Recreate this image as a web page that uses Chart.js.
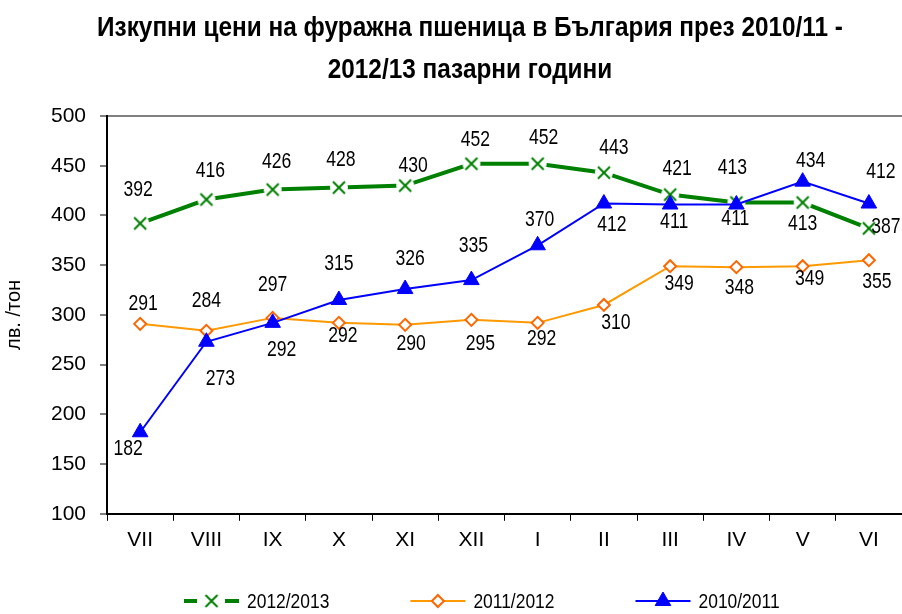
<!DOCTYPE html>
<html>
<head>
<meta charset="utf-8">
<script src="https://cdn.jsdelivr.net/npm/chart.js@4.4.0/dist/chart.umd.min.js"></script>
<style>
    html, body { margin: 0; padding: 0; background: #fff; }
    #wrap { width: 902px; height: 614px; position: relative; }
</style>
</head>
<body>
<div id="wrap"><canvas id="priceChart"></canvas></div>
<script>
const FONT = "'Liberation Sans', Arial, sans-serif";

const titleLines = ["Изкупни цени на фуражна пшеница в България през 2010/11 -", "2012/13 пазарни години"];
const yAxisTitle = "лв. /тон";

const months = ["VII", "VIII", "IX", "X", "XI", "XII", "I", "II", "III", "IV", "V", "VI"];
const seriesNames = ["2012/2013", "2011/2012", "2010/2011"];
const prices1213 = [392, 416, 426, 428, 430, 452, 452, 443, 421, 413, 413, 387];
const prices1112 = [291, 284, 297, 292, 290, 295, 292, 310, 349, 348, 349, 355];
const prices1011 = [182, 273, 292, 315, 326, 335, 370, 412, 411, 411, 434, 412];
const yTicks = { min: 100, max: 500, step: 50 };

// къде стои етикетът спрямо точката (dx, dy)
const labelOffsets = [
    [[-2, -33], [4, -29], [4, -28], [2, -28], [8, -20], [4, -24], [6, -26], [10, -25], [7, -26], [-4, -35], [0, 21], [17, -1]],
    [[3, -20], [0, -30], [0, -33], [4, 13], [6, 19], [9, 24], [4, 16], [12, 18], [9, 18], [3, 21], [7, 13], [8, 22]],
    [[-12, 17], [14, 37], [9, 27], [0, -36], [5, -30], [2, -34], [2, -25], [8, 21], [4, 17], [-1, 14], [8, -21], [12, -32]],
];

const GREEN = "#008000";
const ORANGE = "#FF9900";
const ORANGE_DARK = "#FF6600";
const BLUE = "#0000FF";

// кръстче с бял фон, за да се получи прекъсване на линията около маркера
function makeCrossMarker() {
    const c = document.createElement("canvas");
    c.width = 20;
    c.height = 20;
    const g = c.getContext("2d");
    g.fillStyle = "#fff";
    g.beginPath();
    g.arc(10, 10, 9, 0, Math.PI * 2);
    g.fill();
    g.strokeStyle = GREEN;
    g.lineWidth = 2;
    g.beginPath();
    g.moveTo(4, 4);
    g.lineTo(16, 16);
    g.moveTo(16, 4);
    g.lineTo(4, 16);
    g.stroke();
    return c;
}
const crossMarker = makeCrossMarker();

// текст, свит хоризонтално (няма Arial Narrow)
function narrowText(ctx, text, x, y, sx) {
    ctx.save();
    ctx.translate(x, y);
    ctx.scale(sx, 1);
    ctx.fillText(text, 0, 0);
    ctx.restore();
}

const titlePlugin = {
    id: "customTitle",
    afterDraw(chart) {
        const ctx = chart.ctx;
        ctx.save();
        ctx.fillStyle = "#000";
        ctx.font = "bold 28px " + FONT;
        ctx.textAlign = "center";
        ctx.textBaseline = "middle";
        narrowText(ctx, titleLines[0], 470, 28, 0.87);
        narrowText(ctx, titleLines[1], 470, 70, 0.87);
        ctx.restore();
    },
};

const labelPlugin = {
    id: "pointLabels",
    afterDatasetsDraw(chart) {
        const ctx = chart.ctx;
        ctx.save();
        ctx.fillStyle = "#000";
        ctx.font = "22px " + FONT;
        ctx.textAlign = "center";
        ctx.textBaseline = "middle";
        chart.data.datasets.forEach((ds, i) => {
            const meta = chart.getDatasetMeta(i);
            meta.data.forEach((pt, j) => {
                const off = labelOffsets[i][j];
                narrowText(ctx, String(ds.data[j]), pt.x + off[0], pt.y + off[1], 0.8);
            });
        });
        ctx.restore();
    },
};

const legendPlugin = {
    id: "lineLegend",
    afterDraw(chart) {
        const ctx = chart.ctx;
        const y = chart.height - 13;
        const lineW = 55;
        const gapText = 8;
        const gapItem = 81;
        const sx = 0.83;
        ctx.save();
        ctx.font = "21px " + FONT;
        ctx.textBaseline = "middle";
        const widths = chart.data.datasets.map((ds) => ctx.measureText(ds.label).width * sx);
        let x = 184;
        chart.data.datasets.forEach((ds, i) => {
            const cx = x + lineW / 2;
            ctx.strokeStyle = ds.borderColor;
            ctx.lineWidth = ds.borderWidth;
            ctx.beginPath();
            if (i === 0) {
                ctx.moveTo(x, y);
                ctx.lineTo(x + 13, y);
                ctx.moveTo(x + lineW - 14, y);
                ctx.lineTo(x + lineW, y);
                ctx.stroke();
                ctx.drawImage(crossMarker, cx - 10, y - 10);
            } else {
                ctx.moveTo(x, y);
                ctx.lineTo(x + lineW, y);
                ctx.stroke();
                ctx.fillStyle = ds.pointBackgroundColor;
                ctx.strokeStyle = ds.pointBorderColor;
                ctx.lineWidth = ds.pointBorderWidth;
                Chart.helpers.drawPoint(ctx, {
                    pointStyle: ds.pointStyle,
                    radius: ds.pointRadius,
                    borderWidth: ds.pointBorderWidth,
                    rotation: 0,
                }, cx, y);
            }
            ctx.fillStyle = "#000";
            ctx.textAlign = "left";
            narrowText(ctx, ds.label, x + lineW + gapText, y + 1, sx);
            x += lineW + gapText + widths[i] + gapItem;
        });
        ctx.restore();
    },
};

function createPriceChart() {
    const ctx = document.getElementById("priceChart");

    new Chart(ctx, {
        type: "line",
        data: {
            labels: months,
            datasets: [
                {
                    label: seriesNames[0],
                    data: prices1213,
                    borderColor: GREEN,
                    borderWidth: 4,
                    pointStyle: crossMarker,
                    pointRadius: 10,
                    order: 2,
                    tension: 0,
                },
                {
                    label: seriesNames[1],
                    data: prices1112,
                    borderColor: ORANGE,
                    borderWidth: 2,
                    pointStyle: "rectRot",
                    pointRadius: 6,
                    pointBackgroundColor: "#fff",
                    pointBorderColor: ORANGE_DARK,
                    pointBorderWidth: 2,
                    order: 1,
                    tension: 0,
                },
                {
                    label: seriesNames[2],
                    data: prices1011,
                    borderColor: BLUE,
                    borderWidth: 2,
                    pointStyle: "triangle",
                    pointRadius: 9,
                    pointBackgroundColor: BLUE,
                    pointBorderColor: BLUE,
                    pointBorderWidth: 1,
                    order: 0,
                    tension: 0,
                },
            ],
        },
        options: {
            responsive: true,
            maintainAspectRatio: false,
            animation: false,
            layout: {
                autoPadding: false,
                padding: { top: 116, bottom: 54, left: 2, right: -2 },
            },
            plugins: {
                legend: { display: false },
                title: { display: false },
                tooltip: { enabled: false },
            },
            scales: {
                x: {
                    offset: true,
                    grid: {
                        display: true,
                        offset: true,
                        drawOnChartArea: false,
                        tickColor: "#000",
                        tickLength: 7,
                        tickWidth: 1,
                    },
                    border: { color: "#000", width: 2 },
                    ticks: {
                        color: "#000",
                        font: { family: FONT, size: 21 },
                        padding: 7,
                    },
                },
                y: {
                    min: yTicks.min,
                    max: yTicks.max,
                    grid: {
                        display: true,
                        color: (c) => (c.tick && c.tick.value === yTicks.max ? "#808080" : "rgba(0,0,0,0)"),
                        lineWidth: 2,
                        tickColor: "#000",
                        tickLength: 7,
                        tickWidth: 1,
                    },
                    border: { color: "#000", width: 2 },
                    ticks: {
                        stepSize: yTicks.step,
                        color: "#000",
                        font: { family: FONT, size: 21 },
                        padding: 14,
                    },
                    title: {
                        display: true,
                        text: yAxisTitle,
                        color: "#000",
                        font: { family: FONT, size: 20 },
                        padding: { top: 0, bottom: 11 },
                    },
                },
            },
        },
        plugins: [titlePlugin, labelPlugin, legendPlugin],
    });
}

createPriceChart();
</script>
</body>
</html>
